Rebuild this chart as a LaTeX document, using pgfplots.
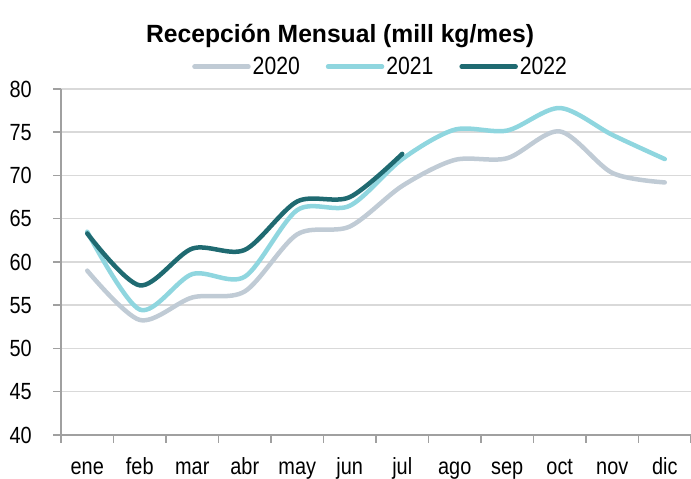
\documentclass[border=0pt]{standalone}
\usepackage{fontspec}
\setmainfont{Liberation Sans}[FakeStretch=0.85]
\newfontfamily\titlefont{Liberation Sans}[FakeStretch=0.99]
\usepackage{pgfplots}
\pgfplotsset{compat=1.18}
\definecolor{c2020}{RGB}{192,203,213}
\definecolor{c2021}{RGB}{143,214,223}
\definecolor{c2022}{RGB}{31,106,113}
\definecolor{gridc}{RGB}{217,217,217}
\definecolor{axc}{RGB}{160,160,160}
\begin{document}
\begin{tikzpicture}
\begin{axis}[
  at={(0,0)}, anchor=south west,
  scale only axis, width=630bp, height=346bp,
  xmin=-0.5, xmax=11.5, ymin=40, ymax=80,
  axis lines*=left,
  axis line style={axc, line width=1.5bp},
  xtick={-0.5,0.5,...,11.5},
  xticklabels={ene,feb,mar,abr,may,jun,jul,ago,sep,oct,nov,dic},
  x tick label as interval,
  ytick={40,45,...,80},
  tick align=outside,
  major tick length=8bp,
  tick style={axc, line width=1.5bp},
  ymajorgrids=true,
  grid style={gridc, line width=1.5bp},
  /pgf/number format/assume math mode=true,
  ticklabel style={font=\fontsize{23.5}{23.5}\selectfont, inner sep=0pt},
  yticklabel style={xshift=-21bp},
  xticklabel style={text height=0.75em, text depth=0.2em, yshift=-24bp},
  title={\titlefont\bfseries Recepción Mensual (mill kg/mes)},
  title style={font=\fontsize{25}{25}\selectfont, at={(axis description cs:0.443,1.116)}, anchor=base, inner sep=0pt},
  legend columns=3,
  legend style={draw=none, fill=none, font=\fontsize{25}{25}\selectfont,
    at={(rel axis cs:0.208,1.0645)}, anchor=west, inner sep=0pt,
    /tikz/every odd column/.append style={column sep=2bp},
    /tikz/every even column/.append style={column sep=26bp},
    nodes={inner sep=0pt}},
  legend image code/.code={\draw[#1, line width=4.5bp, line cap=round] (0bp,0bp) -- (54bp,0bp);},
  every axis plot/.append style={line width=4.5bp, smooth, tension=0.5, line cap=round},
]
\addplot[c2020] coordinates {(0,59.0) (1,53.3) (2,55.9) (3,56.6) (4,63.2) (5,64.1) (6,68.8) (7,71.8) (8,72.0) (9,75.1) (10,70.3) (11,69.2)};
\addlegendentry{2020}
\addplot[c2021] coordinates {(0,63.5) (1,54.5) (2,58.6) (3,58.3) (4,66.0) (5,66.5) (6,71.9) (7,75.3) (8,75.2) (9,77.8) (10,74.7) (11,71.9)};
\addlegendentry{2021}
\addplot[c2022] coordinates {(0,63.3) (1,57.3) (2,61.55) (3,61.4) (4,67.0) (5,67.5) (6,72.5)};
\addlegendentry{2022}
\end{axis}
\pgfresetboundingbox
\useasboundingbox (-61bp,-44bp) rectangle (630bp,435bp);
\end{tikzpicture}
\end{document}
